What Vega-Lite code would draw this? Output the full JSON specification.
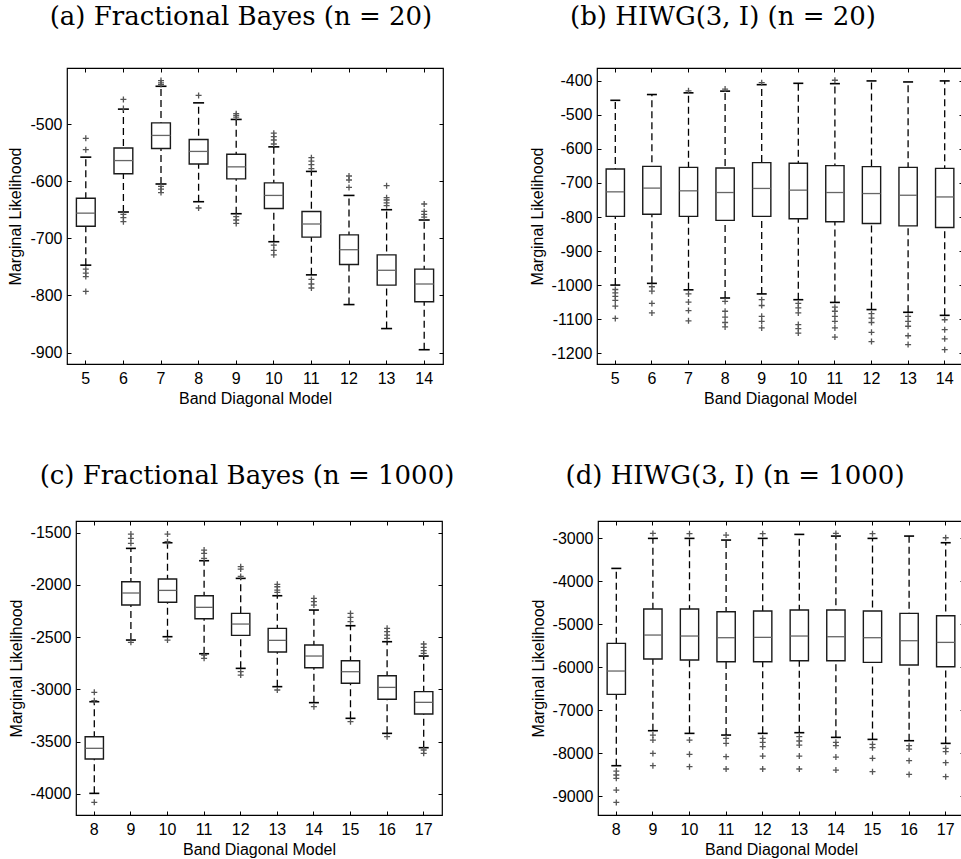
{
  "$schema": "https://vega.github.io/schema/vega-lite/v6.json",
  "padding": {"left": 6, "top": 2, "right": 0, "bottom": 0},
  "background": "white",
  "spacing": 54,
  "datasets": {
    "a_box": [
      {"m": 5, "lo": -747, "q1": -679, "med": -656, "q3": -630, "hi": -558},
      {"m": 6, "lo": -654, "q1": -587, "med": -564, "q3": -542, "hi": -474},
      {"m": 7, "lo": -605, "q1": -543, "med": -520, "q3": -498, "hi": -434},
      {"m": 8, "lo": -636, "q1": -570, "med": -548, "q3": -527, "hi": -463},
      {"m": 9, "lo": -657, "q1": -596, "med": -575, "q3": -553, "hi": -492},
      {"m": 10, "lo": -706, "q1": -648, "med": -625, "q3": -603, "hi": -540},
      {"m": 11, "lo": -764, "q1": -698, "med": -675, "q3": -653, "hi": -583},
      {"m": 12, "lo": -816, "q1": -746, "med": -720, "q3": -694, "hi": -625},
      {"m": 13, "lo": -858, "q1": -782, "med": -756, "q3": -729, "hi": -650},
      {"m": 14, "lo": -895, "q1": -811, "med": -780, "q3": -754, "hi": -668}
    ],
    "a_out": [
      {"m": 5, "v": -525}, {"m": 5, "v": -545}, {"m": 5, "v": -754}, {"m": 5, "v": -761}, {"m": 5, "v": -767}, {"m": 5, "v": -793},
      {"m": 6, "v": -457}, {"m": 6, "v": -473}, {"m": 6, "v": -658}, {"m": 6, "v": -664}, {"m": 6, "v": -671},
      {"m": 7, "v": -424}, {"m": 7, "v": -428}, {"m": 7, "v": -431}, {"m": 7, "v": -609}, {"m": 7, "v": -614}, {"m": 7, "v": -620},
      {"m": 8, "v": -450}, {"m": 8, "v": -647},
      {"m": 9, "v": -482}, {"m": 9, "v": -485}, {"m": 9, "v": -488}, {"m": 9, "v": -662}, {"m": 9, "v": -668}, {"m": 9, "v": -674},
      {"m": 10, "v": -516}, {"m": 10, "v": -522}, {"m": 10, "v": -528}, {"m": 10, "v": -535}, {"m": 10, "v": -712}, {"m": 10, "v": -721}, {"m": 10, "v": -729},
      {"m": 11, "v": -559}, {"m": 11, "v": -565}, {"m": 11, "v": -571}, {"m": 11, "v": -578}, {"m": 11, "v": -772}, {"m": 11, "v": -780}, {"m": 11, "v": -787},
      {"m": 12, "v": -591}, {"m": 12, "v": -598}, {"m": 12, "v": -611},
      {"m": 13, "v": -608}, {"m": 13, "v": -629}, {"m": 13, "v": -633}, {"m": 13, "v": -638}, {"m": 13, "v": -643},
      {"m": 14, "v": -640}, {"m": 14, "v": -653}, {"m": 14, "v": -658}, {"m": 14, "v": -663}
    ],
    "b_box": [
      {"m": 5, "lo": -1000, "q1": -798, "med": -726, "q3": -659, "hi": -457},
      {"m": 6, "lo": -995, "q1": -792, "med": -715, "q3": -651, "hi": -440},
      {"m": 7, "lo": -1014, "q1": -798, "med": -723, "q3": -654, "hi": -435},
      {"m": 8, "lo": -1038, "q1": -810, "med": -728, "q3": -656, "hi": -430},
      {"m": 9, "lo": -1026, "q1": -798, "med": -716, "q3": -640, "hi": -411},
      {"m": 10, "lo": -1043, "q1": -805, "med": -721, "q3": -642, "hi": -407},
      {"m": 11, "lo": -1051, "q1": -814, "med": -728, "q3": -649, "hi": -408},
      {"m": 12, "lo": -1072, "q1": -819, "med": -731, "q3": -652, "hi": -400},
      {"m": 13, "lo": -1080, "q1": -826, "med": -736, "q3": -654, "hi": -403},
      {"m": 14, "lo": -1089, "q1": -831, "med": -741, "q3": -657, "hi": -400}
    ],
    "b_out": [
      {"m": 5, "v": -1013}, {"m": 5, "v": -1023}, {"m": 5, "v": -1033}, {"m": 5, "v": -1045}, {"m": 5, "v": -1062}, {"m": 5, "v": -1098},
      {"m": 6, "v": -1005}, {"m": 6, "v": -1018}, {"m": 6, "v": -1054}, {"m": 6, "v": -1082},
      {"m": 7, "v": -429}, {"m": 7, "v": -1026}, {"m": 7, "v": -1050}, {"m": 7, "v": -1075}, {"m": 7, "v": -1105},
      {"m": 8, "v": -424}, {"m": 8, "v": -1048}, {"m": 8, "v": -1077}, {"m": 8, "v": -1094}, {"m": 8, "v": -1110}, {"m": 8, "v": -1123},
      {"m": 9, "v": -405}, {"m": 9, "v": -1043}, {"m": 9, "v": -1060}, {"m": 9, "v": -1092}, {"m": 9, "v": -1107}, {"m": 9, "v": -1126},
      {"m": 10, "v": -1054}, {"m": 10, "v": -1067}, {"m": 10, "v": -1082}, {"m": 10, "v": -1116}, {"m": 10, "v": -1128}, {"m": 10, "v": -1141},
      {"m": 11, "v": -398}, {"m": 11, "v": -1065}, {"m": 11, "v": -1077}, {"m": 11, "v": -1092}, {"m": 11, "v": -1107}, {"m": 11, "v": -1126}, {"m": 11, "v": -1153},
      {"m": 12, "v": -1084}, {"m": 12, "v": -1097}, {"m": 12, "v": -1110}, {"m": 12, "v": -1139}, {"m": 12, "v": -1166},
      {"m": 13, "v": -1092}, {"m": 13, "v": -1107}, {"m": 13, "v": -1121}, {"m": 13, "v": -1149}, {"m": 13, "v": -1175},
      {"m": 14, "v": -1102}, {"m": 14, "v": -1131}, {"m": 14, "v": -1158}, {"m": 14, "v": -1190}
    ],
    "c_box": [
      {"m": 8, "lo": -3994, "q1": -3665, "med": -3563, "q3": -3452, "hi": -3117},
      {"m": 9, "lo": -2527, "q1": -2192, "med": -2077, "q3": -1969, "hi": -1650},
      {"m": 10, "lo": -2495, "q1": -2166, "med": -2052, "q3": -1943, "hi": -1596},
      {"m": 11, "lo": -2658, "q1": -2323, "med": -2214, "q3": -2103, "hi": -1768},
      {"m": 12, "lo": -2798, "q1": -2482, "med": -2374, "q3": -2272, "hi": -1937},
      {"m": 13, "lo": -2973, "q1": -2642, "med": -2530, "q3": -2415, "hi": -2103},
      {"m": 14, "lo": -3126, "q1": -2792, "med": -2680, "q3": -2575, "hi": -2240},
      {"m": 15, "lo": -3276, "q1": -2941, "med": -2830, "q3": -2725, "hi": -2390},
      {"m": 16, "lo": -3420, "q1": -3094, "med": -2980, "q3": -2868, "hi": -2543},
      {"m": 17, "lo": -3557, "q1": -3235, "med": -3123, "q3": -3021, "hi": -2680}
    ],
    "c_out": [
      {"m": 8, "v": -3027}, {"m": 8, "v": -3107}, {"m": 8, "v": -4080},
      {"m": 9, "v": -1513}, {"m": 9, "v": -1554}, {"m": 9, "v": -1602}, {"m": 9, "v": -2549},
      {"m": 10, "v": -1513}, {"m": 10, "v": -1586}, {"m": 10, "v": -2527},
      {"m": 11, "v": -1666}, {"m": 11, "v": -1698}, {"m": 11, "v": -1746}, {"m": 11, "v": -2670}, {"m": 11, "v": -2702},
      {"m": 12, "v": -1825}, {"m": 12, "v": -1848}, {"m": 12, "v": -1918}, {"m": 12, "v": -2830}, {"m": 12, "v": -2862},
      {"m": 13, "v": -1994}, {"m": 13, "v": -2017}, {"m": 13, "v": -2049}, {"m": 13, "v": -2071}, {"m": 13, "v": -3005},
      {"m": 14, "v": -2128}, {"m": 14, "v": -2160}, {"m": 14, "v": -2192}, {"m": 14, "v": -3165},
      {"m": 15, "v": -2272}, {"m": 15, "v": -2310}, {"m": 15, "v": -2351}, {"m": 15, "v": -3308},
      {"m": 16, "v": -2415}, {"m": 16, "v": -2447}, {"m": 16, "v": -2479}, {"m": 16, "v": -2511}, {"m": 16, "v": -3452},
      {"m": 17, "v": -2565}, {"m": 17, "v": -2597}, {"m": 17, "v": -2629}, {"m": 17, "v": -2655}, {"m": 17, "v": -3579}, {"m": 17, "v": -3611}
    ],
    "d_box": [
      {"m": 8, "lo": -8294, "q1": -6633, "med": -6089, "q3": -5445, "hi": -3699},
      {"m": 9, "lo": -7479, "q1": -5810, "med": -5251, "q3": -4646, "hi": -3000},
      {"m": 10, "lo": -7541, "q1": -5833, "med": -5274, "q3": -4646, "hi": -3000},
      {"m": 11, "lo": -7580, "q1": -5872, "med": -5313, "q3": -4708, "hi": -3039},
      {"m": 12, "lo": -7541, "q1": -5872, "med": -5305, "q3": -4692, "hi": -3000},
      {"m": 13, "lo": -7525, "q1": -5849, "med": -5274, "q3": -4669, "hi": -2907},
      {"m": 14, "lo": -7634, "q1": -5849, "med": -5290, "q3": -4669, "hi": -2946},
      {"m": 15, "lo": -7681, "q1": -5888, "med": -5313, "q3": -4692, "hi": -3000},
      {"m": 16, "lo": -7712, "q1": -5950, "med": -5383, "q3": -4747, "hi": -2946},
      {"m": 17, "lo": -7774, "q1": -5989, "med": -5422, "q3": -4801, "hi": -3101}
    ],
    "d_out": [
      {"m": 8, "v": -8418}, {"m": 8, "v": -8511}, {"m": 8, "v": -8589}, {"m": 8, "v": -8861}, {"m": 8, "v": -9148},
      {"m": 9, "v": -2884}, {"m": 9, "v": -7580}, {"m": 9, "v": -7696}, {"m": 9, "v": -8007}, {"m": 9, "v": -8294},
      {"m": 10, "v": -2891}, {"m": 10, "v": -7696}, {"m": 10, "v": -8030}, {"m": 10, "v": -8317},
      {"m": 11, "v": -2922}, {"m": 11, "v": -7657}, {"m": 11, "v": -7774}, {"m": 11, "v": -8084}, {"m": 11, "v": -8371},
      {"m": 12, "v": -2891}, {"m": 12, "v": -7657}, {"m": 12, "v": -7750}, {"m": 12, "v": -7851}, {"m": 12, "v": -8069}, {"m": 12, "v": -8371},
      {"m": 13, "v": -7619}, {"m": 13, "v": -7719}, {"m": 13, "v": -7813}, {"m": 13, "v": -8069}, {"m": 13, "v": -8371},
      {"m": 14, "v": -2884}, {"m": 14, "v": -7750}, {"m": 14, "v": -7828}, {"m": 14, "v": -8092}, {"m": 14, "v": -8395},
      {"m": 15, "v": -2891}, {"m": 15, "v": -7797}, {"m": 15, "v": -7874}, {"m": 15, "v": -8123}, {"m": 15, "v": -8434},
      {"m": 16, "v": -7828}, {"m": 16, "v": -7906}, {"m": 16, "v": -8177}, {"m": 16, "v": -8496},
      {"m": 17, "v": -2985}, {"m": 17, "v": -7890}, {"m": 17, "v": -7968}, {"m": 17, "v": -8224}, {"m": 17, "v": -8550}
    ]
  },
  "vconcat": [
    {
      "spacing": 0,
      "hconcat": [
        {"width": 1, "height": 1, "data": {"values": []}, "mark": {"type": "point", "opacity": 0}, "view": {"stroke": null}},
        {
          "spacing": 83,
          "hconcat": [
            {
              "width": 376, "height": 296,
              "title": {"text": "(a) Fractional Bayes (n = 20)", "dx": -14, "offset": 38},
              "layer": [
                {"data": {"name": "a_box"}, "mark": {"type": "rule", "strokeDash": [7, 4], "color": "black", "strokeWidth": 1.3},
                 "encoding": {
                   "x": {"field": "m", "type": "ordinal", "scale": {"paddingInner": 0, "paddingOuter": 0}, "axis": {"title": "Band Diagonal Model"}},
                   "y": {"field": "lo", "type": "quantitative", "scale": {"domain": [-920, -402], "nice": false, "zero": false}, "axis": {"title": "Marginal Likelihood", "values": [-900, -800, -700, -600, -500]}},
                   "y2": {"field": "hi"}}},
                {"data": {"name": "a_box"}, "mark": {"type": "bar", "fill": "white", "stroke": "#1a1a1a", "strokeWidth": 1.4, "width": {"band": 0.5}},
                 "encoding": {"x": {"field": "m", "type": "ordinal", "axis": null}, "y": {"field": "q1", "type": "quantitative", "axis": null}, "y2": {"field": "q3"}}},
                {"data": {"name": "a_box"}, "mark": {"type": "tick", "color": "#666666", "thickness": 1.3, "size": 19, "opacity": 1},
                 "encoding": {"x": {"field": "m", "type": "ordinal", "axis": null}, "y": {"field": "med", "type": "quantitative", "axis": null}}},
                {"data": {"name": "a_box"}, "mark": {"type": "tick", "color": "black", "thickness": 1.6, "size": 11, "opacity": 1},
                 "encoding": {"x": {"field": "m", "type": "ordinal", "axis": null}, "y": {"field": "lo", "type": "quantitative", "axis": null}}},
                {"data": {"name": "a_box"}, "mark": {"type": "tick", "color": "black", "thickness": 1.6, "size": 11, "opacity": 1},
                 "encoding": {"x": {"field": "m", "type": "ordinal", "axis": null}, "y": {"field": "hi", "type": "quantitative", "axis": null}}},
                {"data": {"name": "a_out"}, "mark": {"type": "point", "shape": "M-1,0H1M0,-1V1", "filled": false, "stroke": "#555555", "strokeWidth": 1.3, "size": 36, "opacity": 1},
                 "encoding": {"x": {"field": "m", "type": "ordinal", "axis": null}, "y": {"field": "v", "type": "quantitative", "axis": null}}},
                {"data": {"name": "a_box"}, "mark": {"type": "tick", "opacity": 0},
                 "encoding": {"x": {"field": "m", "type": "ordinal", "axis": {"orient": "top", "labels": false, "title": null}},
                              "y": {"field": "med", "type": "quantitative", "axis": {"orient": "right", "labels": false, "title": null, "values": [-900, -800, -700, -600, -500]}}}}
              ],
              "resolve": {"axis": {"x": "independent", "y": "independent"}}
            },
            {
              "width": 366, "height": 296,
              "title": {"text": "(b) HIWG(3, I) (n = 20)", "dx": -57, "offset": 38},
              "layer": [
                {"data": {"name": "b_box"}, "mark": {"type": "rule", "strokeDash": [7, 4], "color": "black", "strokeWidth": 1.3},
                 "encoding": {
                   "x": {"field": "m", "type": "ordinal", "scale": {"paddingInner": 0, "paddingOuter": 0}, "axis": {"title": "Band Diagonal Model"}},
                   "y": {"field": "lo", "type": "quantitative", "scale": {"domain": [-1232, -362], "nice": false, "zero": false}, "axis": {"title": "Marginal Likelihood", "values": [-1200, -1100, -1000, -900, -800, -700, -600, -500, -400]}},
                   "y2": {"field": "hi"}}},
                {"data": {"name": "b_box"}, "mark": {"type": "bar", "fill": "white", "stroke": "#1a1a1a", "strokeWidth": 1.4, "width": {"band": 0.5}},
                 "encoding": {"x": {"field": "m", "type": "ordinal", "axis": null}, "y": {"field": "q1", "type": "quantitative", "axis": null}, "y2": {"field": "q3"}}},
                {"data": {"name": "b_box"}, "mark": {"type": "tick", "color": "#666666", "thickness": 1.3, "size": 18, "opacity": 1},
                 "encoding": {"x": {"field": "m", "type": "ordinal", "axis": null}, "y": {"field": "med", "type": "quantitative", "axis": null}}},
                {"data": {"name": "b_box"}, "mark": {"type": "tick", "color": "black", "thickness": 1.6, "size": 10, "opacity": 1},
                 "encoding": {"x": {"field": "m", "type": "ordinal", "axis": null}, "y": {"field": "lo", "type": "quantitative", "axis": null}}},
                {"data": {"name": "b_box"}, "mark": {"type": "tick", "color": "black", "thickness": 1.6, "size": 10, "opacity": 1},
                 "encoding": {"x": {"field": "m", "type": "ordinal", "axis": null}, "y": {"field": "hi", "type": "quantitative", "axis": null}}},
                {"data": {"name": "b_out"}, "mark": {"type": "point", "shape": "M-1,0H1M0,-1V1", "filled": false, "stroke": "#555555", "strokeWidth": 1.3, "size": 36, "opacity": 1},
                 "encoding": {"x": {"field": "m", "type": "ordinal", "axis": null}, "y": {"field": "v", "type": "quantitative", "axis": null}}},
                {"data": {"name": "b_box"}, "mark": {"type": "tick", "opacity": 0},
                 "encoding": {"x": {"field": "m", "type": "ordinal", "axis": {"orient": "top", "labels": false, "title": null}},
                              "y": {"field": "med", "type": "quantitative", "axis": {"orient": "right", "labels": false, "title": null, "values": [-1200, -1100, -1000, -900, -800, -700, -600, -500, -400]}}}}
              ],
              "resolve": {"axis": {"x": "independent", "y": "independent"}}
            }
          ]
        }
      ]
    },
    {
      "spacing": 0,
      "hconcat": [
        {"width": 1, "height": 1, "data": {"values": []}, "mark": {"type": "point", "opacity": 0}, "view": {"stroke": null}},
        {
          "spacing": 74,
          "hconcat": [
            {
              "width": 366, "height": 294,
              "title": {"text": "(c) Fractional Bayes (n = 1000)", "dx": -12, "offset": 32},
              "layer": [
                {"data": {"name": "c_box"}, "mark": {"type": "rule", "strokeDash": [7, 4], "color": "black", "strokeWidth": 1.3},
                 "encoding": {
                   "x": {"field": "m", "type": "ordinal", "scale": {"paddingInner": 0, "paddingOuter": 0}, "axis": {"title": "Band Diagonal Model"}},
                   "y": {"field": "lo", "type": "quantitative", "scale": {"domain": [-4201, -1388], "nice": false, "zero": false}, "axis": {"title": "Marginal Likelihood", "values": [-4000, -3500, -3000, -2500, -2000, -1500]}},
                   "y2": {"field": "hi"}}},
                {"data": {"name": "c_box"}, "mark": {"type": "bar", "fill": "white", "stroke": "#1a1a1a", "strokeWidth": 1.4, "width": {"band": 0.5}},
                 "encoding": {"x": {"field": "m", "type": "ordinal", "axis": null}, "y": {"field": "q1", "type": "quantitative", "axis": null}, "y2": {"field": "q3"}}},
                {"data": {"name": "c_box"}, "mark": {"type": "tick", "color": "#666666", "thickness": 1.3, "size": 18, "opacity": 1},
                 "encoding": {"x": {"field": "m", "type": "ordinal", "axis": null}, "y": {"field": "med", "type": "quantitative", "axis": null}}},
                {"data": {"name": "c_box"}, "mark": {"type": "tick", "color": "black", "thickness": 1.6, "size": 10, "opacity": 1},
                 "encoding": {"x": {"field": "m", "type": "ordinal", "axis": null}, "y": {"field": "lo", "type": "quantitative", "axis": null}}},
                {"data": {"name": "c_box"}, "mark": {"type": "tick", "color": "black", "thickness": 1.6, "size": 10, "opacity": 1},
                 "encoding": {"x": {"field": "m", "type": "ordinal", "axis": null}, "y": {"field": "hi", "type": "quantitative", "axis": null}}},
                {"data": {"name": "c_out"}, "mark": {"type": "point", "shape": "M-1,0H1M0,-1V1", "filled": false, "stroke": "#555555", "strokeWidth": 1.3, "size": 36, "opacity": 1},
                 "encoding": {"x": {"field": "m", "type": "ordinal", "axis": null}, "y": {"field": "v", "type": "quantitative", "axis": null}}},
                {"data": {"name": "c_box"}, "mark": {"type": "tick", "opacity": 0},
                 "encoding": {"x": {"field": "m", "type": "ordinal", "axis": {"orient": "top", "labels": false, "title": null}},
                              "y": {"field": "med", "type": "quantitative", "axis": {"orient": "right", "labels": false, "title": null, "values": [-4000, -3500, -3000, -2500, -2000, -1500]}}}}
              ],
              "resolve": {"axis": {"x": "independent", "y": "independent"}}
            },
            {
              "width": 366, "height": 294,
              "title": {"text": "(d) HIWG(3, I) (n = 1000)", "dx": -46, "offset": 32},
              "layer": [
                {"data": {"name": "d_box"}, "mark": {"type": "rule", "strokeDash": [7, 4], "color": "black", "strokeWidth": 1.3},
                 "encoding": {
                   "x": {"field": "m", "type": "ordinal", "scale": {"paddingInner": 0, "paddingOuter": 0}, "axis": {"title": "Band Diagonal Model"}},
                   "y": {"field": "lo", "type": "quantitative", "scale": {"domain": [-9442, -2595], "nice": false, "zero": false}, "axis": {"title": "Marginal Likelihood", "values": [-9000, -8000, -7000, -6000, -5000, -4000, -3000]}},
                   "y2": {"field": "hi"}}},
                {"data": {"name": "d_box"}, "mark": {"type": "bar", "fill": "white", "stroke": "#1a1a1a", "strokeWidth": 1.4, "width": {"band": 0.5}},
                 "encoding": {"x": {"field": "m", "type": "ordinal", "axis": null}, "y": {"field": "q1", "type": "quantitative", "axis": null}, "y2": {"field": "q3"}}},
                {"data": {"name": "d_box"}, "mark": {"type": "tick", "color": "#666666", "thickness": 1.3, "size": 18, "opacity": 1},
                 "encoding": {"x": {"field": "m", "type": "ordinal", "axis": null}, "y": {"field": "med", "type": "quantitative", "axis": null}}},
                {"data": {"name": "d_box"}, "mark": {"type": "tick", "color": "black", "thickness": 1.6, "size": 10, "opacity": 1},
                 "encoding": {"x": {"field": "m", "type": "ordinal", "axis": null}, "y": {"field": "lo", "type": "quantitative", "axis": null}}},
                {"data": {"name": "d_box"}, "mark": {"type": "tick", "color": "black", "thickness": 1.6, "size": 10, "opacity": 1},
                 "encoding": {"x": {"field": "m", "type": "ordinal", "axis": null}, "y": {"field": "hi", "type": "quantitative", "axis": null}}},
                {"data": {"name": "d_out"}, "mark": {"type": "point", "shape": "M-1,0H1M0,-1V1", "filled": false, "stroke": "#555555", "strokeWidth": 1.3, "size": 36, "opacity": 1},
                 "encoding": {"x": {"field": "m", "type": "ordinal", "axis": null}, "y": {"field": "v", "type": "quantitative", "axis": null}}},
                {"data": {"name": "d_box"}, "mark": {"type": "tick", "opacity": 0},
                 "encoding": {"x": {"field": "m", "type": "ordinal", "axis": {"orient": "top", "labels": false, "title": null}},
                              "y": {"field": "med", "type": "quantitative", "axis": {"orient": "right", "labels": false, "title": null, "values": [-9000, -8000, -7000, -6000, -5000, -4000, -3000]}}}}
              ],
              "resolve": {"axis": {"x": "independent", "y": "independent"}}
            }
          ]
        }
      ]
    }
  ],
  "config": {
    "view": {"stroke": "black", "strokeWidth": 1.2},
    "title": {"font": "DejaVu Serif", "fontSize": 26, "fontWeight": "normal", "color": "black", "baseline": "alphabetic", "anchor": "middle", "frame": "group"},
    "axis": {"tickSize": -4, "labelPadding": 9, "domain": false, "grid": false, "ticks": true, "tickColor": "black", "tickWidth": 1, "labelFont": "Liberation Sans", "labelFontSize": 16, "labelColor": "black", "labelExpr": "datum.value + ''", "titleFont": "Liberation Sans", "titleFontSize": 16, "titleFontWeight": "normal", "titleColor": "black"},
    "axisX": {"labelPadding": 10, "titlePadding": 4, "labelAngle": 0},
    "axisY": {"titlePadding": 6}
  }
}
